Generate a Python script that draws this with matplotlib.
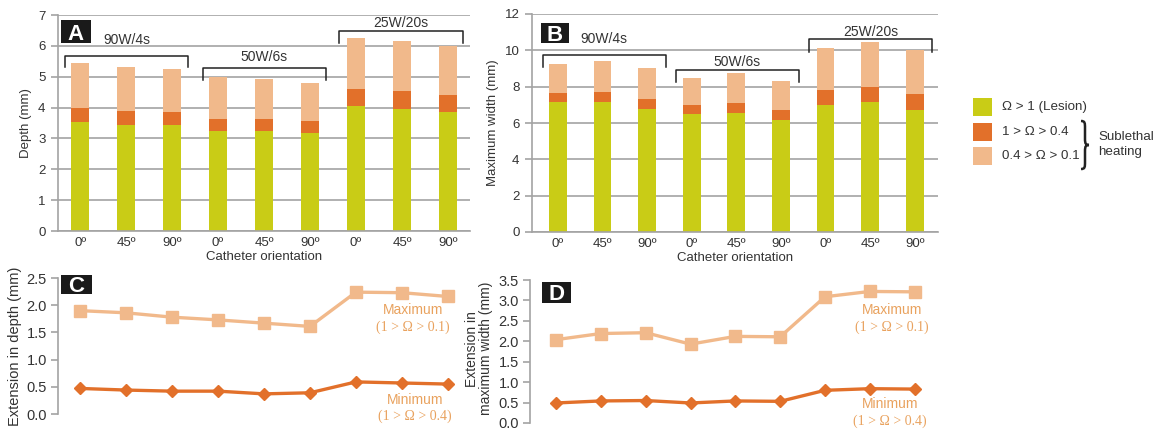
import matplotlib
matplotlib.use("Agg")
import matplotlib.pyplot as plt
from matplotlib.patches import Rectangle, PathPatch
from matplotlib.path import Path
import numpy as np

plt.rcParams['font.family'] = ['Liberation Sans', 'DejaVu Sans']

# ---------------- data ----------------
orientations = ["0º", "45º", "90º", "0º", "45º", "90º", "0º", "45º", "90º"]
groups = ["90W/4s", "50W/6s", "25W/20s"]

# Panel A: depth (mm), cumulative tops
depth_lesion = [3.54, 3.44, 3.44, 3.25, 3.25, 3.19, 4.04, 3.96, 3.86]
depth_o04 = [3.99, 3.90, 3.85, 3.63, 3.63, 3.57, 4.61, 4.53, 4.40]
depth_o01 = [5.45, 5.32, 5.24, 4.98, 4.92, 4.81, 6.26, 6.17, 6.01]

# Panel B: maximum width (mm), cumulative tops
width_lesion = [7.17, 7.17, 6.75, 6.48, 6.53, 6.15, 6.99, 7.17, 6.73]
width_o04 = [7.65, 7.72, 7.32, 7.01, 7.10, 6.70, 7.80, 8.00, 7.58]
width_o01 = [9.23, 9.39, 9.01, 8.48, 8.73, 8.31, 10.15, 10.46, 10.00]

# Panel C: extension in depth (mm)
ext_depth_max = [1.90, 1.86, 1.78, 1.73, 1.67, 1.61, 2.24, 2.23, 2.16]
ext_depth_min = [0.47, 0.44, 0.42, 0.42, 0.37, 0.39, 0.59, 0.57, 0.55]

# Panel D: extension in maximum width (mm)
ext_width_max = [2.04, 2.19, 2.21, 1.93, 2.12, 2.11, 3.09, 3.22, 3.21]
ext_width_min = [0.49, 0.54, 0.55, 0.49, 0.54, 0.53, 0.80, 0.84, 0.83]

# ---------------- style ----------------
C_GREEN = "#c9cc16"
C_ORANGE = "#e2702a"
C_PEACH = "#f1b98b"
C_GRID = "#a3a3a3"
C_TEXT = "#333333"
C_LABEL = "#e9a25e"

W, H = 1162, 432
fig = plt.figure(figsize=(W / 100, H / 100), dpi=100)


def ax_px(left, top, right, bottom):
    return fig.add_axes([left / W, (H - bottom) / H, (right - left) / W, (bottom - top) / H])


def fx(x):
    return x / W


def fy(y):
    return (H - y) / H


def letter_box(left, top, right, bottom, letter):
    fig.patches.append(Rectangle((fx(left), fy(bottom)), (right - left) / W, (bottom - top) / H,
                                 transform=fig.transFigure, facecolor="#1a1a1a", edgecolor="none"))
    fig.text(fx((left + right) / 2), fy((top + bottom) / 2), letter, color="white",
             fontsize=16, fontweight="bold", ha="center", va="center_baseline")


x = np.arange(len(orientations))


def bar_panel(ax, lesion, o04, o01, ymax, ystep, ylabel, xlim, brackets):
    lesion = np.array(lesion)
    o04 = np.array(o04)
    o01 = np.array(o01)
    bw = 0.40
    ax.set_axisbelow(True)
    ax.bar(x, lesion, bw, color=C_GREEN, zorder=2)
    ax.bar(x, o04 - lesion, bw, bottom=lesion, color=C_ORANGE, zorder=2)
    ax.bar(x, o01 - o04, bw, bottom=o04, color=C_PEACH, zorder=2)
    ax.set_xlim(*xlim)
    ax.set_ylim(0, ymax)
    ax.set_yticks(np.arange(0, ymax + 0.01, ystep))
    ax.yaxis.grid(True, color=C_GRID, linewidth=1.2)
    ax.set_xticks(x)
    ax.set_xticklabels(orientations)
    ax.tick_params(axis="x", length=0, pad=4, labelsize=9.5, colors=C_TEXT)
    ax.tick_params(axis="y", length=5, width=1.2, color=C_GRID, labelsize=9.5, colors=C_TEXT, pad=4)
    for s in ["top", "right"]:
        ax.spines[s].set_visible(False)
    for s in ["left", "bottom"]:
        ax.spines[s].set_color(C_GRID)
        ax.spines[s].set_linewidth(1.2)
    ax.set_ylabel(ylabel, fontsize=9.5, color=C_TEXT, labelpad=4)
    ax.set_xlabel("Catheter orientation", fontsize=9.5, color=C_TEXT, labelpad=2)
    for (x0, x1, ytop, yend, ylab, label) in brackets:
        ax.plot([x0, x0, x1, x1], [yend, ytop, ytop, yend], color="#222222", linewidth=1.1,
                clip_on=False, zorder=3)
        ax.text((x0 + x1) / 2, ylab, label, ha="center", va="center", fontsize=10, color=C_TEXT)


# Panel A
axA = ax_px(58, 15, 470, 231)
bar_panel(axA, depth_lesion, depth_o04, depth_o01, 7, 1, "Depth (mm)", (-0.48, 8.48),
          [(-0.33, 2.35, 5.68, 5.32, 6.2, groups[0]),
           (2.67, 5.35, 5.29, 4.90, 5.65, groups[1]),
           (5.63, 8.33, 6.49, 6.10, 6.75, groups[2])])
letter_box(61, 20, 91, 43, "A")

# Panel B
axB = ax_px(532, 14, 938, 232)
bar_panel(axB, width_lesion, width_o04, width_o01, 12, 2, "Maximum width (mm)", (-0.58, 8.52),
          [(-0.34, 2.42, 9.76, 9.10, 10.64, groups[0]),
           (2.65, 5.40, 8.93, 8.27, 9.37, groups[1]),
           (5.63, 8.39, 10.64, 9.92, 11.02, groups[2])])
letter_box(541, 23, 569, 43, "B")


def line_panel(ax, vmax, vmin, ymax, ystep, ylabel, xlim, fmt, lsize):
    ax.plot(x, vmax, color=C_PEACH, linewidth=2.4, marker="s", markersize=8, zorder=3, clip_on=False)
    ax.plot(x, vmin, color=C_ORANGE, linewidth=2.4, marker="D", markersize=6, zorder=3, clip_on=False)
    ax.set_xlim(*xlim)
    ax.set_ylim(0, ymax)
    ticks = np.arange(0, ymax + 0.01, ystep)
    ax.set_yticks(ticks)
    ax.set_yticklabels([fmt.format(v) for v in ticks])
    ax.set_xticks([])
    for s in ["top", "right", "bottom"]:
        ax.spines[s].set_visible(False)
    ax.spines["left"].set_color(C_GRID)
    ax.spines["left"].set_linewidth(1.2)
    ax.tick_params(axis="y", length=5, width=1.2, color=C_GRID, labelsize=10.5, colors=C_TEXT, pad=3)
    ax.set_ylabel(ylabel, fontsize=lsize, color=C_TEXT, labelpad=3, linespacing=1.0)


serif = ["Liberation Serif", "DejaVu Serif"]

# Panel C
axC = ax_px(58, 278, 470, 414)
line_panel(axC, ext_depth_max, ext_depth_min, 2.5, 0.5, "Extension in depth (mm)", (-0.48, 8.48), "{:.1f}", 10.5)
letter_box(61, 275, 92, 294, "C")
fig.text(fx(413), fy(310), "Maximum", color=C_LABEL, fontsize=10, ha="center", va="center")
fig.text(fx(413), fy(327), "(1 > Ω > 0.1)", color=C_LABEL, fontsize=10, ha="center", va="center", family=serif)
fig.text(fx(415), fy(400), "Minimum", color=C_LABEL, fontsize=10, ha="center", va="center")
fig.text(fx(415), fy(416), "(1 > Ω > 0.4)", color=C_LABEL, fontsize=10, ha="center", va="center", family=serif)

# Panel D
axD = ax_px(530, 280, 938, 423)
line_panel(axD, ext_width_max, ext_width_min, 3.5, 0.5, "Extension in\nmaximum width (mm)", (-0.58, 8.52), "{:.1f}", 10)
axD.yaxis.set_label_coords(-0.09, 0.52)
letter_box(542, 282, 571, 303, "D")
fig.text(fx(892), fy(310), "Maximum", color=C_LABEL, fontsize=10, ha="center", va="center")
fig.text(fx(892), fy(327), "(1 > Ω > 0.1)", color=C_LABEL, fontsize=10, ha="center", va="center", family=serif)
fig.text(fx(890), fy(404), "Minimum", color=C_LABEL, fontsize=10, ha="center", va="center")
fig.text(fx(890), fy(421), "(1 > Ω > 0.4)", color=C_LABEL, fontsize=10, ha="center", va="center", family=serif)

# Legend
legend_items = [(C_GREEN, "Ω > 1 (Lesion)", 107), (C_ORANGE, "1 > Ω > 0.4", 132), (C_PEACH, "0.4 > Ω > 0.1", 156)]
for col, lab, yc in legend_items:
    fig.patches.append(Rectangle((fx(973), fy(yc + 9)), 19 / W, 18 / H, transform=fig.transFigure,
                                 facecolor=col, edgecolor="none"))
    fig.text(fx(1002), fy(yc), lab, fontsize=9.6, color=C_TEXT, ha="left", va="center")


# curly brace drawn as a path (pixel coords, y downward)
def brace(x0, yt, yb, w):
    m = (yt + yb) / 2
    xm = x0 + w / 2
    pts = [(x0, yt),
           (xm, yt), (xm, yt + 2), (xm, yt + 7),
           (xm, m - 6),
           (xm, m - 1), (xm + 1, m), (x0 + w, m),
           (xm + 1, m), (xm, m + 1), (xm, m + 6),
           (xm, yb - 7),
           (xm, yb - 2), (xm, yb), (x0, yb)]
    codes = [Path.MOVETO,
             Path.CURVE4, Path.CURVE4, Path.CURVE4,
             Path.LINETO,
             Path.CURVE4, Path.CURVE4, Path.CURVE4,
             Path.CURVE4, Path.CURVE4, Path.CURVE4,
             Path.LINETO,
             Path.CURVE4, Path.CURVE4, Path.CURVE4]
    verts = [(fx(px), fy(py)) for px, py in pts]
    fig.patches.append(PathPatch(Path(verts, codes), transform=fig.transFigure,
                                 facecolor="none", edgecolor="#222222", linewidth=1.8))


brace(1081, 121, 169, 8)
fig.text(fx(1098), fy(137), "Sublethal", fontsize=9.6, color=C_TEXT, ha="left", va="center")
fig.text(fx(1098), fy(152), "heating", fontsize=9.6, color=C_TEXT, ha="left", va="center")

fig.savefig("out.png", dpi=100)
